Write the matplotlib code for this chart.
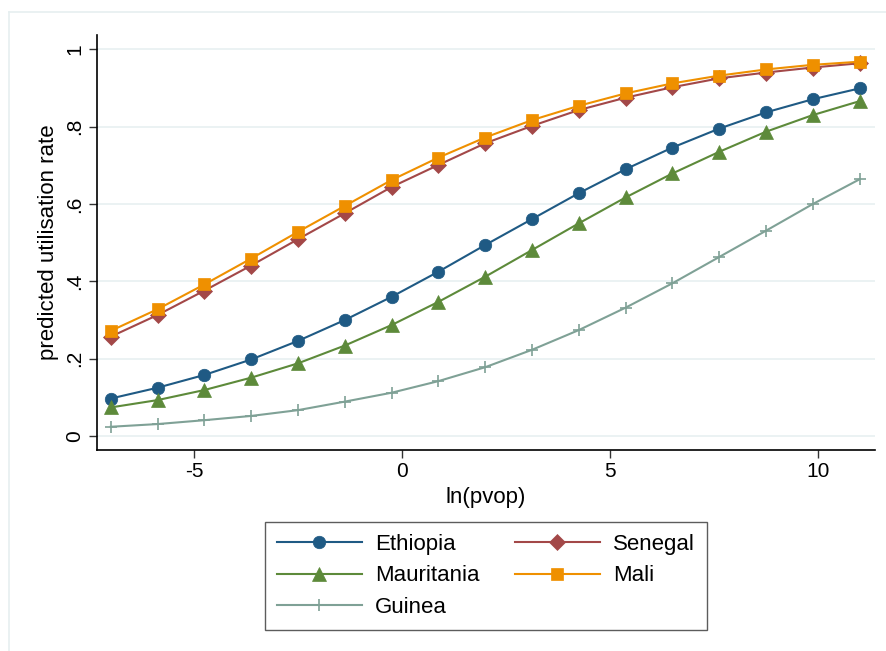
import matplotlib
matplotlib.use("Agg")
import matplotlib.pyplot as plt
from matplotlib.lines import Line2D

plt.rcParams['font.family'] = ['Liberation Sans', 'DejaVu Sans']

# ln(pvop) grid: 17 points from -7 to 11
lnpvop = [-7.0, -5.875, -4.75, -3.625, -2.5, -1.375, -0.25, 0.875, 2.0,
          3.125, 4.25, 5.375, 6.5, 7.625, 8.75, 9.875, 11.0]

ethiopia = [0.097, 0.125, 0.158, 0.198, 0.246, 0.300, 0.360, 0.425, 0.494,
            0.561, 0.628, 0.690, 0.746, 0.795, 0.837, 0.871, 0.899]
senegal = [0.257, 0.313, 0.376, 0.441, 0.509, 0.576, 0.644, 0.701, 0.757,
           0.802, 0.843, 0.875, 0.902, 0.925, 0.940, 0.953, 0.964]
mauritania = [0.074, 0.093, 0.119, 0.151, 0.188, 0.234, 0.287, 0.347, 0.412,
              0.481, 0.550, 0.617, 0.679, 0.735, 0.787, 0.830, 0.866]
mali = [0.272, 0.328, 0.392, 0.459, 0.528, 0.595, 0.662, 0.720, 0.772,
        0.817, 0.854, 0.886, 0.912, 0.932, 0.948, 0.960, 0.968]
guinea = [0.024, 0.031, 0.041, 0.052, 0.067, 0.089, 0.112, 0.142, 0.178,
          0.223, 0.274, 0.332, 0.395, 0.463, 0.531, 0.600, 0.664]

xticks = [-5, 0, 5, 10]
yticks = [0, 0.2, 0.4, 0.6, 0.8, 1.0]
ytick_labels = ['0', '.2', '.4', '.6', '.8', '1']

fig = plt.figure(figsize=(8.86, 6.51), dpi=100)
ax = fig.add_axes([0.1095, 0.3088, 0.8781, 0.6374])

series = [
    ("Ethiopia", ethiopia, '#1f5a84', 'o', 9),
    ("Senegal", senegal, '#a34848', 'D', 8),
    ("Mauritania", mauritania, '#5d8a3a', '^', 9.5),
    ("Mali", mali, '#ef9000', 's', 8.5),
    ("Guinea", guinea, '#7fa196', '+', 9),
]
handles = {}
for name, vals, col, mk, ms in series:
    h, = ax.plot(lnpvop, vals, color=col, marker=mk, markersize=ms, lw=1.5,
                 markeredgewidth=1.2 if mk == '+' else 0.5, label=name)
    handles[name] = h

ax.set_xlim(-7.33, 11.37)
ax.set_ylim(-0.036, 1.037)
ax.set_xticks(xticks)
ax.set_xticklabels([str(t) for t in xticks])
ax.set_yticks(yticks)
ax.set_yticklabels(ytick_labels, rotation=90, va='center')
ax.tick_params(direction='out', length=6, width=1, labelsize=15, pad=3,
               color='#333333')
ax.grid(axis='y', color='#e8f0f1', lw=1.2)
ax.set_axisbelow(True)
for s in ['top', 'right']:
    ax.spines[s].set_visible(False)
for s in ['left', 'bottom']:
    ax.spines[s].set_linewidth(1.2)
ax.set_xlabel("ln(pvop)", fontsize=16, labelpad=4)
ax.set_ylabel("predicted utilisation rate", fontsize=16, labelpad=5)

order = ["Ethiopia", "Mauritania", "Guinea", "Senegal", "Mali"]
leg = fig.legend([handles[n] for n in order], order, ncol=2,
                 loc='upper left', mode='expand',
                 bbox_to_anchor=(265 / 886, 23 / 651, 442 / 886, 106 / 651),
                 fontsize=16, frameon=True, fancybox=False,
                 edgecolor='#333333', handlelength=3.8, columnspacing=1.0,
                 handletextpad=0.6, labelspacing=0.46, borderpad=0.55,
                 borderaxespad=0)
leg.get_frame().set_linewidth(1.0)

# faint outer graph-region border (left and top edges)
fig.add_artist(Line2D([0.0102, 0.0102], [0.0, 0.9816], color='#e6eff0', lw=1.2))
fig.add_artist(Line2D([0.0102, 1.0], [0.9816, 0.9816], color='#e6eff0', lw=1.2))

fig.savefig("out.png", dpi=100)
